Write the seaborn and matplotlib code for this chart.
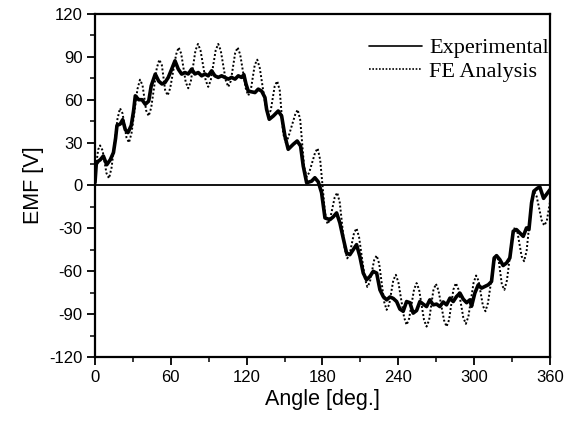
"""EMF waveform: experimental vs FE analysis."""

import matplotlib
matplotlib.use("Agg")
import matplotlib.pyplot as plt
import pandas as pd
import seaborn as sns
from matplotlib.ticker import MultipleLocator

# Experimental back-EMF (angle in deg, EMF in V)
exp_angle = [
    0, 1, 2.6, 4.2, 6.6, 9.3, 12.1, 14.6, 16.3, 17.4, 20, 21.9, 24, 26.1, 28.7,
    30.5, 31.9, 34.6, 37.2, 39.8, 42.5, 44.5, 47.7, 50.4, 53, 55.4, 58, 60.7,
    63.3, 65.9, 68.6, 71.2, 73.8, 76.5, 79.1, 81.7, 84.4, 87, 89.6, 92.3, 94.9,
    97.5, 100.2, 102.8, 105.5, 108.1, 110.8, 113.4, 116, 117.8, 119.5, 121.3,
    124, 126.6, 129.2, 131.9, 134.5, 135.8, 137.9, 141.1, 145, 147.7, 150.3,
    152.9, 156.9, 160, 162.7, 164.8, 167.5, 171.4, 174, 176.7, 179.3, 182,
    185.9, 188.5, 191.2, 193.8, 196.4, 199.1, 201.7, 204.3, 207, 209.6, 212.3,
    214.9, 217.6, 220.2, 222.9, 225.5, 228.1, 230.8, 233.4, 236, 238.7, 241.3,
    243.9, 246.6, 249.2, 251.8, 254.5, 257.1, 259.7, 262.4, 265, 267.6, 270.3,
    272.9, 275.6, 278.2, 280.9, 283.5, 286.1, 288.8, 291.4, 294.1, 296.7, 298,
    300.6, 303.3, 305.9, 308.5, 311.2, 313.8, 315.9, 317.8, 320.4, 323, 325.7,
    328.3, 331, 333.6, 336.2, 338.9, 341.5, 343.4, 345.5, 347.3, 350, 352, 355,
    357.5, 360,
]
exp_emf = [
    2, 15, 17, 18, 20.6, 14.5, 18, 23, 33, 42, 43, 46, 39, 37, 42,
    52, 62.7, 60, 60, 56.8, 59, 69.7, 77.9, 73, 71, 72, 75.6, 81.4,
    87.2, 81.4, 77.9, 79, 78, 81.4, 78, 79, 76.7, 78, 76.7, 80.2, 76.7,
    75.6, 76.7, 75.6, 74.4, 75.6, 74.4, 76.7, 75.6, 77.5, 71, 66,
    65.5, 65, 67.4, 66, 61.5, 53.3, 46.3, 48.6, 52.1, 48.6, 34.6,
    25.3, 28.8, 31.1, 27.6, 13.6, 1.9, 3, 5.4, 2.5, -5, -22.7,
    -23.9, -22, -19.2, -26.2, -36.7, -47.2, -48.4, -44.9, -41.4, -49.6, -61.3,
    -66, -63.6, -60.1, -61.3, -73, -77.7, -80, -78, -79, -81.2, -86.5,
    -88, -81.2, -82, -89.3, -87.5, -81.2, -83, -84.7, -80, -83.5, -83,
    -84.7, -81.5, -83.5, -78.8, -81.2, -77.7, -75.3, -79.5, -82, -80, -84.5,
    -75.3, -69.5, -71.8, -70.7, -69.5, -67.2, -50.7, -49.1, -51.9, -56, -54.2,
    -50.7, -32, -30.9, -33.2, -35.6, -29.7, -30.9, -12.2, -4, -2, -1, -9,
    -6, -3,
]

# FE analysis curve: ripple peaks, troughs and the shoulders between them
fe_angle = [
    0, 2.5, 4, 6, 9.1, 11.1, 13.1, 17.8, 19.8, 21.8, 24.9, 26.9, 28.9, 33.6,
    35.6, 37.6, 40.5, 42.5, 44.5, 48.9, 50.9, 52.9, 55.5, 57.5, 59.5, 64.2,
    66.2, 68.2, 71.8, 73.8, 75.8, 79.5, 81.5, 83.5, 87.6, 89.6, 91.6, 95.5,
    97.5, 99.5, 103.5, 105.5, 107.5, 110.9, 112.9, 114.9, 119.3, 121.3, 123.3,
    126.4, 128.4, 130.4, 135.1, 137.1, 139.1, 142.2, 144.2, 146.2, 148.9,
    150.9, 152.9, 158.4, 160.4, 162.4, 165.5, 167.5, 169.5, 174.2, 176.2,
    178.2, 182, 184, 186, 189.7, 191.7, 193.7, 197.6, 199.6, 201.6, 205, 207,
    209, 213.5, 215.5, 217.5, 220.9, 222.9, 224.9, 228.8, 230.8, 232.8, 236.1,
    238.1, 240.1, 244.6, 246.6, 248.6, 252.5, 254.5, 256.5, 260.4, 262.4,
    264.4, 267.8, 269.8, 271.8, 276.2, 278.2, 280.2, 283.6, 285.6, 287.6,
    291.5, 293.5, 295.5, 299.6, 301.6, 303.6, 307, 309, 311, 315.5, 317.5,
    319.5, 322, 324, 326, 330.3, 332.3, 334.3, 337.6, 339.6, 341.6, 345.5,
    347.5, 349.5, 353.5, 355.5, 357.5, 360,
]
fe_emf = [
    8, 25, 28, 24.5, 8.5, 5, 12.4, 46.6, 54, 50.4, 33.6, 30, 36.6, 67.4,
    74, 70.2, 52.4, 48.6, 54.5, 82.1, 88, 84.2, 66.8, 63, 68, 91.6,
    96.6, 92.3, 72.3, 68, 72.7, 94.4, 99, 94.5, 73.5, 69, 73.5, 94.5,
    99, 94.5, 73.5, 69, 73.1, 92.5, 96.6, 91.6, 68, 63, 66.8,
    84.2, 88, 82.2, 54.9, 49, 52.6, 69.4, 73, 66.6, 36.5,
    30, 33.5, 49.5, 53, 46, 13, 6, 9, 23, 26,
    18, -19, -27, -23.7, -8.3, -5, -11.9, -44.1, -51, -47.8, -33.2, -30,
    -36.2, -64.8, -71, -67.7, -52.3, -49, -54.7, -81.3, -87, -83.3, -66.2,
    -62.5, -67.8, -92.2, -97.5, -93.1, -72.7, -68.3, -72.9, -94.1, -98.7,
    -94.2, -73.3, -68.8, -73.3, -94.2, -98.7, -94.1, -72.9, -68.3, -72.6,
    -92.5, -96.8, -91.7, -68.1, -63, -66.8, -84.2, -88, -82.2, -54.9, -49,
    -52.6, -69.4, -73, -66.4, -35.6, -29, -32.6, -49.4, -53, -45.6, -11.4,
    -4, -7.6, -24.4, -28, -25, -12,
]

x_ticks = [0, 60, 120, 180, 240, 300, 360]
y_ticks = [-120, -90, -60, -30, 0, 30, 60, 90, 120]

sns.set_style("white")
plt.rcParams["font.family"] = ["Liberation Sans", "DejaVu Sans"]
plt.rcParams["axes.unicode_minus"] = False
for key in ["text.color", "axes.labelcolor", "xtick.color", "ytick.color"]:
    plt.rcParams[key] = "black"

exp = pd.DataFrame({"angle": exp_angle, "emf": exp_emf})
fe = pd.DataFrame({"angle": fe_angle, "emf": fe_emf})

fig = plt.figure(figsize=(5.74, 4.22), dpi=100)
ax = fig.add_axes([0.1655, 0.154, 0.7925, 0.813])

ax.axhline(0, color="black", lw=1.3, zorder=1)
sns.lineplot(data=exp, x="angle", y="emf", ax=ax, color="black", lw=2.6,
             estimator=None, sort=False, label="Experimental")
sns.lineplot(data=fe, x="angle", y="emf", ax=ax, color="black", lw=1.4,
             estimator=None, sort=False, label="FE Analysis")
ax.lines[-1].set_dashes((1.0, 1.1))

ax.set_xlim(0, 360)
ax.set_ylim(-120, 120)
ax.set_xticks(x_ticks)
ax.set_yticks(y_ticks)
ax.xaxis.set_minor_locator(MultipleLocator(30))
ax.yaxis.set_minor_locator(MultipleLocator(15))
ax.tick_params(which="major", direction="out", length=6, width=1.3,
               labelsize=12, pad=3, bottom=True, left=True)
ax.tick_params(which="minor", direction="out", length=3.5, width=1.1,
               bottom=True, left=True)
for s in ax.spines.values():
    s.set_linewidth(1.6)
    s.set_color("black")

ax.set_xlabel("Angle [deg.]", fontsize=15.5, labelpad=3)
ax.set_ylabel("EMF [V]", fontsize=15.5, labelpad=4)

leg = ax.legend(loc="upper left", bbox_to_anchor=(0.602, 0.93), frameon=False,
                prop={"family": "Liberation Serif", "size": 16},
                handlelength=2.4, handletextpad=0.32, labelspacing=0.12,
                borderaxespad=0, borderpad=0)
for h in leg.get_lines():
    h.set_linewidth(1.2)
leg.get_lines()[1].set_dashes((1.0, 1.0))
for t in leg.get_texts():
    t.set_clip_box(ax.bbox)
    t.set_clip_on(True)

fig.savefig("out.png", dpi=100)
